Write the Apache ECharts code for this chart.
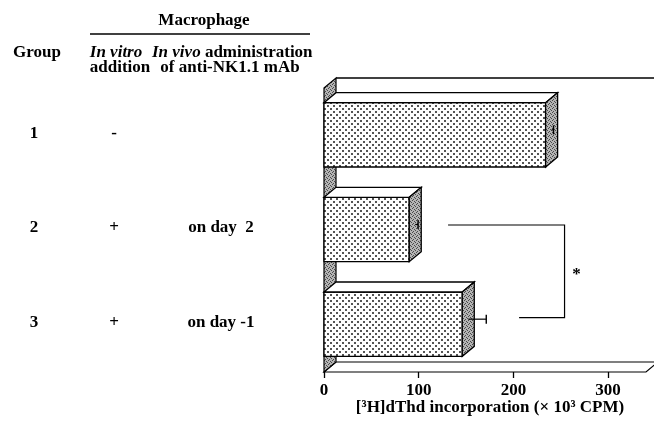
<!DOCTYPE html>
<html><head><meta charset="utf-8">
<script src="https://cdn.jsdelivr.net/npm/echarts@6/dist/echarts.min.js"></script>
<style>html,body{margin:0;padding:0;background:#fff}#c{width:654px;height:421px}</style>
</head><body><div id="c"></div>
<script>
// ---- data ----
const groups = ['1', '2', '3'];
const inVitro = ['-', '+', '+'];
const inVivo = ['', 'on day  2', 'on day -1'];
const values = [234, 90, 146];
const errors = [2, 3, 19];
const xTicks = [0, 100, 200, 300];
const axisTitle = '[\u00B3H]dThd incorporation (\u00D7 10\u00B3 CPM)';
const sigPair = [1, 2];
const sigLabel = '*';

// ---- styling helpers ----
const FONT = '"Liberation Serif", "DejaVu Serif", serif';
const FS = 17;
const DX = 12, DY = -10;

function makePattern(bg, dot, size, dots, ds) {
  const cv = document.createElement('canvas');
  cv.width = size; cv.height = size;
  const ctx = cv.getContext('2d');
  ctx.fillStyle = bg; ctx.fillRect(0, 0, size, size);
  ctx.fillStyle = dot;
  dots.forEach(d => ctx.fillRect(d[0], d[1], ds || 1, ds || 1));
  return { type: 'pattern', image: cv, repeat: 'repeat' };
}
const frontFill = makePattern('#ffffff', '#555555', 6, [[0, 0], [3, 3]], 2);
const sideFill = makePattern('#b4b4b4', '#4a4a4a', 4, [[0, 0], [2, 1], [1, 3], [3, 2]], 1);

const chart = echarts.init(document.getElementById('c'), null, { renderer: 'canvas' });

function renderFrame(params, api) {
  const cs = params.coordSys;
  const x = cs.x, y = cs.y, w = cs.width, h = cs.height, yB = y + h;
  const st = { stroke: '#000', lineWidth: 1.2 };
  return {
    type: 'group', children: [
      { type: 'polygon', shape: { points: [[x, yB], [x + w, yB], [x + w + DX, yB + DY], [x + DX, yB + DY]] },
        style: Object.assign({ fill: '#fff' }, st) },
      { type: 'polygon', shape: { points: [[x, y], [x + DX, y + DY], [x + DX, yB + DY], [x, yB]] },
        style: Object.assign({ fill: sideFill }, st) },
      { type: 'line', shape: { x1: x + DX, y1: y + DY, x2: x + w + DX + 20, y2: y + DY }, style: { stroke: '#000', lineWidth: 1.4 } }
    ]
  };
}

function renderBar(params, api) {
  const v = api.value(0), c = api.value(1), e = api.value(2);
  const p0 = api.coord([0, c]), p1 = api.coord([v, c]), pe = api.coord([v + e, c]);
  const band = api.size([0, 1])[1];
  const h = band * 0.68;
  const x0 = p0[0], x1 = p1[0], yc = p0[1] - 0.5, yt = yc - h / 2, yb = yc + h / 2;
  const st = { stroke: '#000', lineWidth: 1.3 };
  const ey = yc + DY / 2;
  return {
    type: 'group', children: [
      { type: 'rect', shape: { x: x0, y: yt, width: x1 - x0, height: h }, style: Object.assign({ fill: frontFill }, st) },
      { type: 'polygon', shape: { points: [[x0, yt], [x1, yt], [x1 + DX, yt + DY], [x0 + DX, yt + DY]] }, style: Object.assign({ fill: '#fff' }, st) },
      { type: 'polygon', shape: { points: [[x1, yt], [x1 + DX, yt + DY], [x1 + DX, yb + DY], [x1, yb]] }, style: Object.assign({ fill: sideFill }, st) },
      { type: 'line', shape: { x1: x1 + DX / 2, y1: ey, x2: pe[0] + DX / 2, y2: ey }, style: { stroke: '#000', lineWidth: 1.2 } },
      { type: 'line', shape: { x1: pe[0] + DX / 2, y1: ey - 4.5, x2: pe[0] + DX / 2, y2: ey + 4.5 }, style: { stroke: '#000', lineWidth: 1.4 } }
    ]
  };
}

function renderSig(params, api) {
  const a = api.value(0), b = api.value(1), vx = api.value(2);
  const ya = api.coord([0, sigPair[0]])[1] + DY / 2;
  const yb = api.coord([0, sigPair[1]])[1] + DY / 2 - 2;
  const xa = api.coord([a, 0])[0], xb = api.coord([b, 0])[0], xv = api.coord([vx, 0])[0];
  return {
    type: 'group', children: [
      { type: 'polyline', shape: { points: [[xa, ya], [xv, ya], [xv, yb], [xb, yb]] }, style: { stroke: '#000', lineWidth: 1.2, fill: null } },
      { type: 'text', x: xv + 12, y: (ya + yb) / 2 + 3, style: { text: sigLabel, font: 'bold ' + FS + 'px ' + FONT, fill: '#000', align: 'center', verticalAlign: 'middle' } }
    ]
  };
}

chart.setOption({
  animation: false,
  backgroundColor: '#fff',
  grid: { left: 324, top: 88, width: 322, height: 284, containLabel: false, outerBoundsMode: 'none' },
  xAxis: {
    type: 'value', min: 0, max: 340, interval: 100,
    axisLine: { show: false },
    axisTick: { show: true, length: 6, lineStyle: { color: '#000', width: 1.3 }, customValues: xTicks },
    axisLabel: { customValues: xTicks, color: '#000', fontFamily: FONT, fontWeight: 'bold', fontSize: FS, margin: 10 },
    splitLine: { show: false },
    name: axisTitle, nameLocation: 'middle', nameGap: 27, nameMoveOverlap: false,
    nameTextStyle: { color: '#000', fontFamily: FONT, fontWeight: 'bold', fontSize: FS, padding: [0, 0, 0, 10] }
  },
  yAxis: {
    type: 'category', data: groups, inverse: true,
    axisLine: { show: false }, axisTick: { show: false }, axisLabel: { show: false }, splitLine: { show: false }
  },
  series: [
    { type: 'custom', renderItem: renderFrame, data: [[0, 0]], z: 1, silent: true },
    { type: 'custom', renderItem: renderBar, encode: { x: 0, y: 1 }, z: 2,
      data: values.map((v, i) => [v, i, errors[i]]) },
    { type: 'custom', renderItem: renderSig, z: 3, silent: true, data: [[131, 206, 254]] }
  ]
});

// ---- left-hand table text ----
const rowY = groups.map((g, i) => chart.convertToPixel({ yAxisIndex: 0 }, i) - 2);
const T = (text, x, y, align, extra) => ({
  type: 'text', x: x, y: y,
  style: Object.assign({ text: text, font: 'bold ' + FS + 'px ' + FONT, fill: '#000', align: align || 'center', verticalAlign: 'middle' }, extra || {})
});
const g = [
  T('Macrophage', 204, 21),
  { type: 'line', shape: { x1: 90, y1: 34, x2: 310, y2: 34 }, style: { stroke: '#000', lineWidth: 1.5 } },
  T('Group', 13, 53, 'left'),
  T('In vitro', 116, 53, 'center', { font: 'italic bold ' + FS + 'px ' + FONT }),
  T('addition', 120, 68),
  { type: 'text', x: 152, y: 53, style: { text: '{i|In vivo} administration', font: 'bold ' + FS + 'px ' + FONT, fill: '#000', align: 'left', verticalAlign: 'middle',
      rich: { i: { fontStyle: 'italic', fontWeight: 'bold', fontSize: FS, fontFamily: FONT, fill: '#000' } } } },
  T('of anti-NK1.1 mAb', 230, 68)
];
groups.forEach((gr, i) => {
  g.push(T(gr, 34, rowY[i]));
  g.push(T(inVitro[i], 114, rowY[i]));
  if (inVivo[i]) g.push(T(inVivo[i], 221, rowY[i]));
});
chart.setOption({ graphic: g });
</script>
</body></html>
